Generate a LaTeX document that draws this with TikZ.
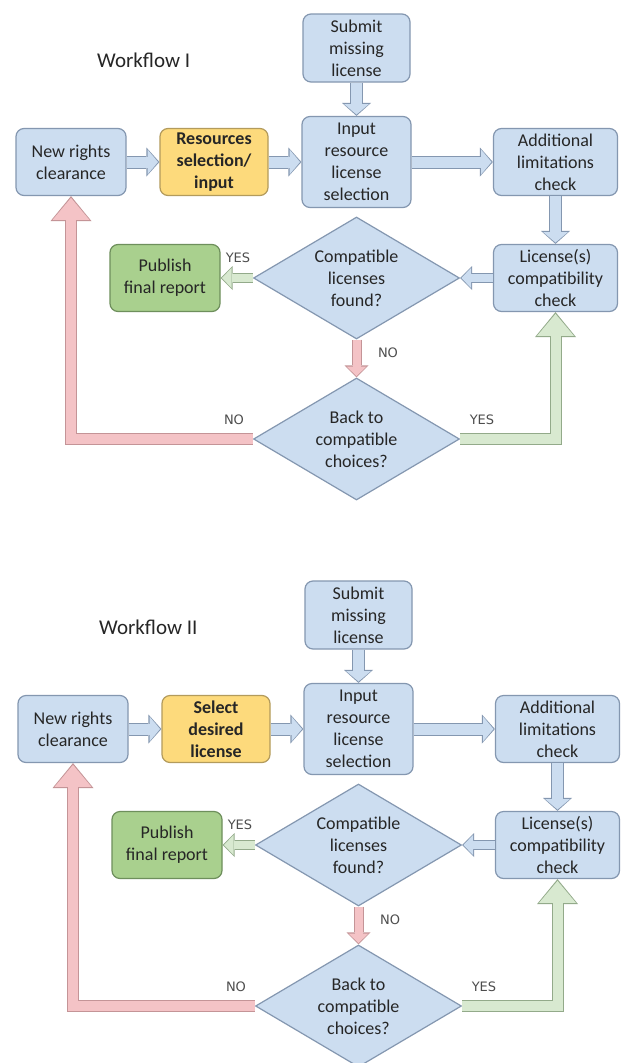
\documentclass[tikz,border=0pt]{standalone}
\usepackage{fontspec}
\setmainfont{Carlito}
\newfontfamily\answerfont{DejaVu Sans}
\usetikzlibrary{arrows.meta,shapes.geometric}
\definecolor{boxblue}{HTML}{CCDDF0}
\definecolor{lineblue}{HTML}{8497B0}
\definecolor{boxyellow}{HTML}{FDDA7C}
\definecolor{lineyellow}{HTML}{B39B5C}
\definecolor{boxgreen}{HTML}{A9D08E}
\definecolor{linegreen}{HTML}{6E8F5C}
\definecolor{arrpink}{HTML}{F4C3C6}
\definecolor{linepink}{HTML}{C49497}
\definecolor{arrgreen}{HTML}{D8E9D0}
\definecolor{linegreenarr}{HTML}{93AA8A}
\definecolor{textdark}{HTML}{262626}
\definecolor{answergray}{HTML}{4D4D4D}

\tikzset{
  stepbox/.style={draw=lineblue,fill=boxblue,line width=1.2pt,rounded corners=8pt,
    align=center,inner sep=0pt,text=textdark,font=\fontsize{18}{22}\selectfont},
  selbox/.style={stepbox,draw=lineyellow,fill=boxyellow,
    font=\fontsize{18}{22}\selectfont\bfseries},
  donebox/.style={stepbox,draw=linegreen,fill=boxgreen},
  decision/.style={shape=diamond,aspect=1.7,draw=lineblue,fill=boxblue,line width=1.2pt,
    inner sep=0pt,minimum width=206,minimum height=122,align=center,text=textdark,
    font=\fontsize{18}{22}\selectfont},
  heading/.style={text=textdark,inner sep=0pt,font=\fontsize{21}{25}\selectfont},
  answer/.style={text=answergray,inner sep=0pt,font=\answerfont\fontsize{13}{15}\selectfont},
  flow/.style 2 args={draw=#1,line width=11pt,line join=miter,
    -{Triangle[length=10.5pt,width=25pt,line width=0pt]},shorten >=1.4pt,
    preaction={draw=#2,line width=13pt,shorten >=0pt,
      -{Triangle[length=13pt,width=29pt,line width=0pt]}}},
  flowsmall/.style 2 args={draw=#1,line width=8pt,line join=miter,
    -{Triangle[length=9.5pt,width=20pt,line width=0pt]},shorten >=1.4pt,
    preaction={draw=#2,line width=10pt,shorten >=0pt,
      -{Triangle[length=12pt,width=24pt,line width=0pt]}}},
  flowbig/.style 2 args={draw=#1,line width=10pt,line join=miter,
    -{Triangle[length=22pt,width=37pt,line width=0pt]},shorten >=1.8pt,
    preaction={draw=#2,line width=12pt,shorten >=0pt,
      -{Triangle[length=25pt,width=41pt,line width=0pt]}}},
}

\begin{document}
\begin{tikzpicture}[x=1pt,y=-1pt]
  \path[use as bounding box,fill=white] (0,0) rectangle (621,1063);
  \foreach \n/\dx/\dy/\wname/\wsel in {1/0/0/I/{Resources\\selection/\\input},
      2/2/567/II/{Select\\desired\\license}} {
    \begin{scope}[shift={(\dx,\dy)}]
      % boxes
      \node[heading,anchor=west] (title\n) at (97,60) {Workflow \wname};
      \node[stepbox,minimum width=107,minimum height=68] (submit\n) at (356.5,48) {Submit\\missing\\license};
      \node[stepbox,minimum width=110,minimum height=67] (new\n) at (71,162) {New rights\\clearance};
      \node[selbox,minimum width=108,minimum height=67] (sel\n) at (214,162) {\wsel};
      \node[stepbox,minimum width=109,minimum height=91] (input\n) at (356.5,162) {Input\\resource\\license\\selection};
      \node[stepbox,minimum width=124,minimum height=67] (add\n) at (555.5,162) {Additional\\limitations\\check};
      \node[stepbox,minimum width=124,minimum height=67] (lic\n) at (555.5,278) {License(s)\\compatibility\\check};
      \node[donebox,minimum width=110,minimum height=67] (pub\n) at (165,278) {Publish\\final report};
      \node[decision] (comp\n) at (356.5,278) {Compatible\\licenses\\found?};
      \node[decision] (back\n) at (356.5,439) {Back to\\compatible\\choices?};
      % answers
      \node[answer] (yesa\n) at (238,258) {YES};
      \node[answer] (noa\n) at (388,353) {NO};
      \node[answer] (nob\n) at (234,420) {NO};
      \node[answer] (yesb\n) at (482,420) {YES};
      % arrows
      \draw[flow={boxblue}{lineblue}] (new\n.east) -- (sel\n.west);
      \draw[flow={boxblue}{lineblue}] (sel\n.east) -- (input\n.west);
      \draw[flow={boxblue}{lineblue}] (submit\n.south) -- (input\n.north);
      \draw[flow={boxblue}{lineblue}] (input\n.east) -- (add\n.west);
      \draw[flow={boxblue}{lineblue}] (add\n.south) -- (lic\n.north);
      \draw[flowsmall={boxblue}{lineblue}] (lic\n.west) -- (comp\n.east);
      \draw[flowsmall={arrgreen}{linegreenarr}] (comp\n.west) -- (pub\n.east);
      \draw[flowsmall={arrpink}{linepink}] (comp\n.south) -- (back\n.north);
      \draw[flowbig={arrpink}{linepink}] (back\n.west) -- (back\n.west -| new\n.south) -- (new\n.south);
      \draw[flowbig={arrgreen}{linegreenarr}] (back\n.east) -- (back\n.east -| lic\n.south) -- (lic\n.south);
    \end{scope}
  }
\end{tikzpicture}
\end{document}
